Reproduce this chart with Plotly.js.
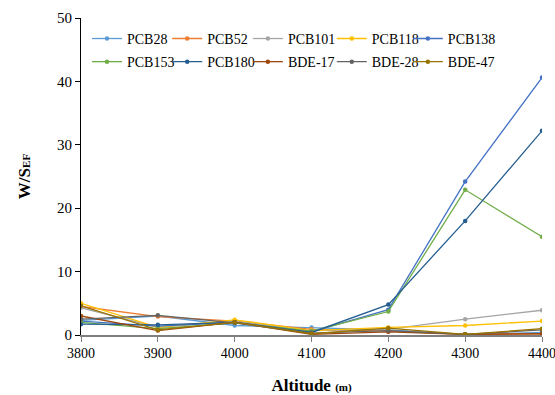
<!DOCTYPE html>
<html><head><meta charset="utf-8">
<script src="https://cdn.plot.ly/plotly-3.0.1.min.js"></script>
<style>html,body{margin:0;padding:0;background:#fff;}#chart{width:555px;height:395px;}</style>
</head><body><div id="chart"></div>
<script>
const altitudes = [3800, 3900, 4000, 4100, 4200, 4300, 4400];
const seriesNames = ["PCB28","PCB52","PCB101","PCB118","PCB138","PCB153","PCB180","BDE-17","BDE-28","BDE-47"];
const PCB28  = [2.3, 3.0, 1.5, 1.2, 0.8, 0.1, 0.4];
const PCB52  = [4.5, 2.9, 2.2, 0.9, 0.6, 0.1, 0.2];
const PCB101 = [4.3, 1.2, 2.2, 0.7, 0.9, 2.5, 3.9];
const PCB118 = [5.0, 1.2, 2.4, 0.7, 1.2, 1.5, 2.2];
const PCB138 = [2.2, 1.4, 2.0, 0.5, 4.0, 24.2, 40.6];
const PCB153 = [2.0, 1.0, 1.9, 0.6, 3.7, 22.9, 15.5];
const PCB180 = [1.7, 1.6, 2.0, 0.4, 4.8, 18.0, 32.2];
const BDE17  = [3.0, 0.7, 2.0, 0.1, 0.5, 0.1, 0.2];
const BDE28  = [2.5, 3.1, 1.9, 0.3, 0.7, 0.1, 0.8];
const BDE47  = [4.6, 0.8, 2.0, 0.2, 1.1, 0.1, 1.0];
const seriesValues = [PCB28, PCB52, PCB101, PCB118, PCB138, PCB153, PCB180, BDE17, BDE28, BDE47];
const colors = ["#5B9BD5","#ED7D31","#A5A5A5","#FFC000","#4472C4","#70AD47","#255E91","#9E480E","#636363","#997300"];

const serif = "Liberation Serif, Times New Roman, serif";
const legendKey = i => (i === 0 ? 'legend' : 'legend' + (i + 1));
const colX = [0.013, 0.187, 0.362, 0.544, 0.709];
const rowY = [0.934, 0.861];

const traces = seriesNames.map((n, i) => ({
  x: altitudes, y: seriesValues[i], name: n, type: 'scatter', mode: 'lines+markers',
  line: {color: colors[i], width: 1.3}, marker: {color: colors[i], size: 4.5},
  legend: legendKey(i)
}));

const layout = {
  width: 555, height: 395,
  margin: {l: 81, r: 13, t: 18, b: 60},
  paper_bgcolor: '#fff', plot_bgcolor: '#fff',
  font: {family: serif, color: '#000', size: 14},
  showlegend: true,
  xaxis: {range: [3800, 4400], tickvals: altitudes, ticktext: altitudes.map(String),
    showgrid: false, zeroline: false, showline: true, linecolor: '#7f7f7f', linewidth: 1.5,
    ticks: 'outside', ticklen: 5, tickcolor: '#7f7f7f', tickfont: {family: serif, size: 14},
    ticklabeloverflow: 'allow',
    title: {text: "<b>Altitude <span style='font-size:11px'>(m)</span></b>", font: {family: serif, size: 17}, standoff: 22}},
  yaxis: {range: [0, 50], dtick: 10, showgrid: false, zeroline: false, showline: true,
    linecolor: '#000', linewidth: 1, ticks: 'outside', ticklen: 5, tickcolor: '#000',
    tickfont: {family: serif, size: 15},
    title: {text: "<b>W/S<span style='font-size:11px'>EF</span></b>", font: {family: serif, size: 17}, standoff: 22}}
};
seriesNames.forEach((n, i) => {
  layout[legendKey(i)] = {
    x: colX[i % 5], y: rowY[Math.floor(i / 5)], xanchor: 'left', yanchor: 'middle',
    orientation: 'v', bgcolor: 'rgba(0,0,0,0)', borderwidth: 0, itemwidth: 30,
    font: {family: serif, size: 14, color: '#000'}
  };
});
Plotly.newPlot('chart', traces, layout, {displayModeBar: false, staticPlot: true});
</script></body></html>
